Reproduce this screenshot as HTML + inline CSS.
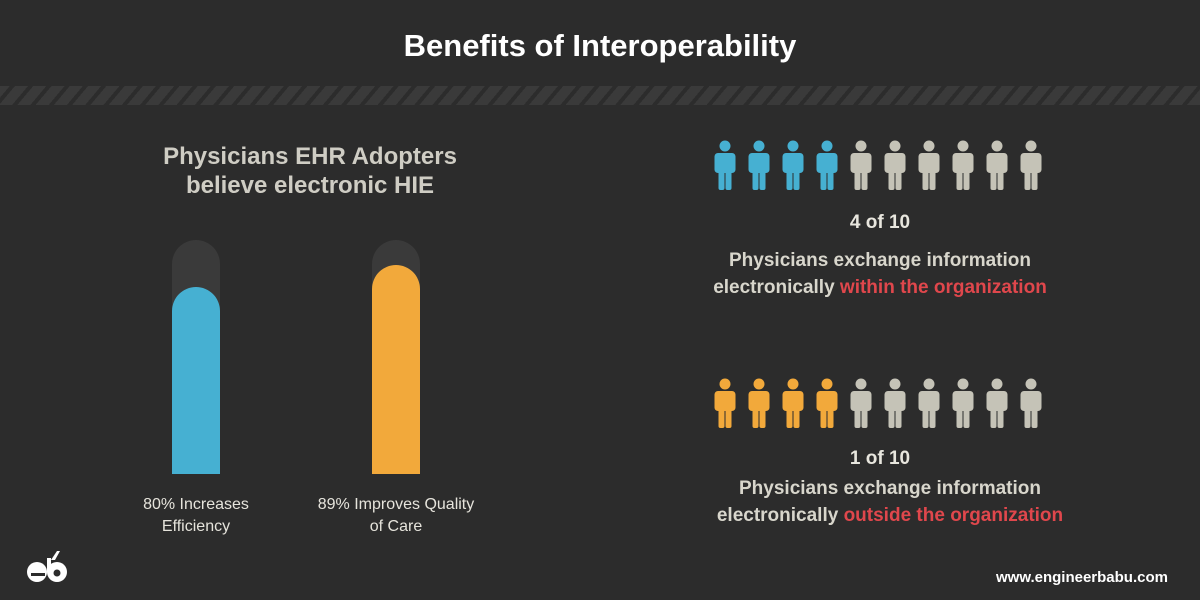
<!DOCTYPE html>
<html><head><meta charset="utf-8"><style>
body{margin:0;width:1200px;height:600px;background:#2c2c2c;font-family:"Liberation Sans",sans-serif;position:relative;overflow:hidden;color:#d8d6cc}
.t{position:absolute;text-align:center;white-space:nowrap}
.stripe{position:absolute;left:0;top:86px;width:1200px;height:19px;background:repeating-linear-gradient(-50deg,#3a3a3a 0 10px,#2c2c2c 10px 14px)}
.track{position:absolute;width:48px;background:#3a3a3a;border-radius:24px 24px 0 0}
.bar{position:absolute;width:48px;border-radius:24px 24px 0 0}
.red{color:#e0474c}
</style></head><body>
<div class="t" style="left:0;width:1200px;top:28px;font-size:31px;font-weight:bold;color:#fff">Benefits of Interoperability</div>
<div class="stripe"></div>
<div class="t" style="left:110px;width:400px;top:142px;font-size:24px;font-weight:bold;line-height:29px;color:#cfcdc4">Physicians EHR Adopters<br>believe electronic HIE</div>
<div class="track" style="left:172px;top:240px;height:234px"></div>
<div class="bar" style="left:172px;top:287px;height:187px;background:#46b0d2"></div>
<div class="track" style="left:372px;top:240px;height:234px"></div>
<div class="bar" style="left:372px;top:265px;height:209px;background:#f2a93b"></div>
<div class="t" style="left:96px;width:200px;top:494px;font-size:16px;line-height:22px;color:#e6e4dc">80% Increases<br>Efficiency</div>
<div class="t" style="left:296px;width:200px;top:494px;font-size:16px;line-height:22px;color:#e6e4dc">89% Improves Quality<br>of Care</div>
<svg style="position:absolute;left:0;top:0" width="1200" height="600">
<defs><g id="p"><circle cx="0" cy="-3" r="5.5"/><rect x="-10.5" y="4" width="21" height="20" rx="3.5"/><rect x="-6.5" y="18" width="6" height="23" rx="2"/><rect x="0.5" y="18" width="6" height="23" rx="2"/></g></defs>
<g fill="#46b0d2"><use href="#p" x="725" y="149"/><use href="#p" x="759" y="149"/><use href="#p" x="793" y="149"/><use href="#p" x="827" y="149"/></g>
<g fill="#c5c3b7"><use href="#p" x="861" y="149"/><use href="#p" x="895" y="149"/><use href="#p" x="929" y="149"/><use href="#p" x="963" y="149"/><use href="#p" x="997" y="149"/><use href="#p" x="1031" y="149"/></g>
<g fill="#f2a93b"><use href="#p" x="725" y="387"/><use href="#p" x="759" y="387"/><use href="#p" x="793" y="387"/><use href="#p" x="827" y="387"/></g>
<g fill="#c5c3b7"><use href="#p" x="861" y="387"/><use href="#p" x="895" y="387"/><use href="#p" x="929" y="387"/><use href="#p" x="963" y="387"/><use href="#p" x="997" y="387"/><use href="#p" x="1031" y="387"/></g>
<g fill="#fff"><circle cx="37" cy="572" r="10"/><circle cx="57" cy="572" r="10"/><polygon points="51,560 55,560 60,551 57,551"/><rect x="47" y="558" width="4" height="14"/></g>
<g fill="#2c2c2c"><circle cx="57" cy="573" r="3.5"/><rect x="31" y="573" width="14" height="3"/></g>
</svg>
<div class="t" style="left:730px;width:300px;top:212px;font-size:19px;font-weight:bold;color:#e8e6de">4 of 10</div>
<div class="t" style="left:680px;width:400px;top:247px;font-size:19px;font-weight:bold;line-height:27px;color:#d8d6cc">Physicians exchange information<br>electronically <span class="red">within the organization</span></div>
<div class="t" style="left:730px;width:300px;top:448px;font-size:19px;font-weight:bold;color:#e8e6de">1 of 10</div>
<div class="t" style="left:690px;width:400px;top:475px;font-size:19px;font-weight:bold;line-height:27px;color:#d8d6cc">Physicians exchange information<br>electronically <span class="red">outside the organization</span></div>
<div class="t" style="left:996px;top:569px;font-size:15px;font-weight:bold;color:#fff">www.engineerbabu.com</div>
</body></html>
